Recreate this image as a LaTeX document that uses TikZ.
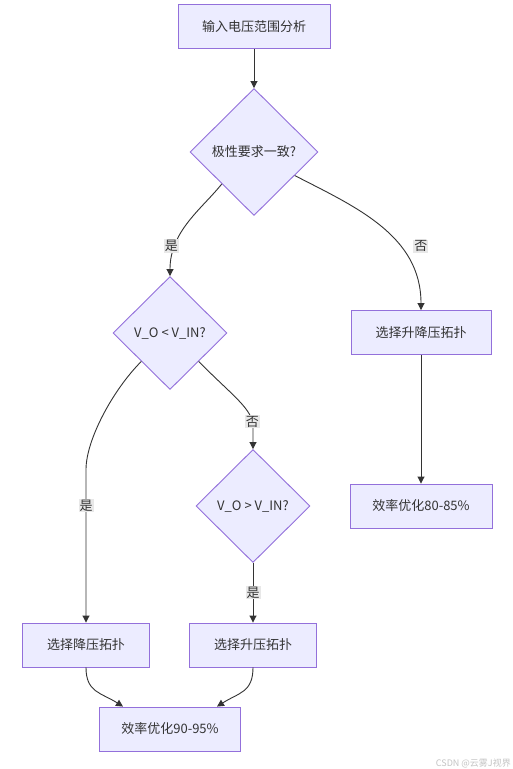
\documentclass[tikz,border=0pt]{standalone}
\usepackage{fontspec}
\setmainfont{Noto Sans CJK SC}
\usetikzlibrary{arrows.meta, shapes.geometric}

\definecolor{nodefill}{HTML}{ECECFF}
\definecolor{nodeline}{HTML}{9370DB}
\definecolor{edgeline}{HTML}{333333}
\definecolor{tagfill}{HTML}{E8E8E8}
\definecolor{txt}{HTML}{333333}
\definecolor{markgray}{HTML}{C4C4C4}

\begin{document}
\begin{tikzpicture}[
      x=1pt, y=-1pt,
      >={Triangle[length=7pt, width=7pt]},
      box/.style={draw=nodeline, fill=nodefill, line width=0.9pt, minimum height=44pt, inner sep=0pt, align=center, text=txt, font=\fontsize{13}{15}\selectfont},
      decision/.style={diamond, draw=nodeline, fill=nodefill, line width=0.9pt, inner sep=0pt, align=center, text=txt, font=\fontsize{13}{15}\selectfont},
      flow/.style={->, draw=edgeline, line width=0.9pt},
      tag/.style={fill=tagfill, inner sep=1pt, text=txt, font=\fontsize{13}{15}\selectfont}
    ]

    \path[fill=white, use as bounding box] (0,0) rectangle (512,769);

    \node[box, minimum width=152pt] (input) at (254,26.5) {输入电压范围分析};
    \node[decision, minimum width=128pt, minimum height=127pt] (polar) at (254,152) {极性要求一致?};
    \node[decision, minimum width=114pt, minimum height=113pt] (buckq) at (170,333) {V\_O < V\_IN?};
    \node[box, minimum width=140pt] (buckboost) at (421,332.5) {选择升降压拓扑};
    \node[decision, minimum width=114pt, minimum height=113pt] (boostq) at (253,506) {V\_O > V\_IN?};
    \node[box, minimum width=142pt] (eff8085) at (421,506) {效率优化80-85\%};
    \node[box, minimum width=127pt] (buck) at (86,645) {选择降压拓扑};
    \node[box, minimum width=127pt] (boost) at (253,645) {选择升压拓扑};
    \node[box, minimum width=141pt] (eff9095) at (170,729) {效率优化90-95\%};

    \draw[flow] (input) -- (polar);

    \draw[flow] (polar.south west) .. controls +(-20,25) and +(0,-45) .. node[tag, pos=0.75, xshift=-4pt] {是} (buckq.north);
    \draw[flow] (polar.-30) .. controls +(60,31) and +(0,-75) .. node[tag, pos=0.65, xshift=21pt] {否} (buckboost.north);

    \draw[flow] (buckq.south west) .. controls +(-28,28) and +(0,-30) .. ([yshift=153pt]buck.north) -- node[tag, pos=0.235] {是} (buck.north);
    \draw[flow] (buckq.south east) .. controls +(34.5,35) and +(0,-18) .. node[tag, pos=0.9] {否} ([yshift=22pt]boostq.north) -- (boostq.north);

    \draw[flow] (boostq) -- node[tag] {是} (boost);
    \draw[flow] (buckboost) -- (eff8085);

    \draw[flow] (buck.south) .. controls +(0,25) and +(-22,-14) .. ([xshift=-47pt]eff9095.north);
    \draw[flow] (boost.south) .. controls +(0,25) and +(22,-14) .. ([xshift=47pt]eff9095.north);

    \node[text=markgray, font=\fontsize{9}{10}\selectfont, anchor=south east, inner sep=0pt] (mark) at (511,768) {CSDN @云雾J视界};

  \end{tikzpicture}
\end{document}
